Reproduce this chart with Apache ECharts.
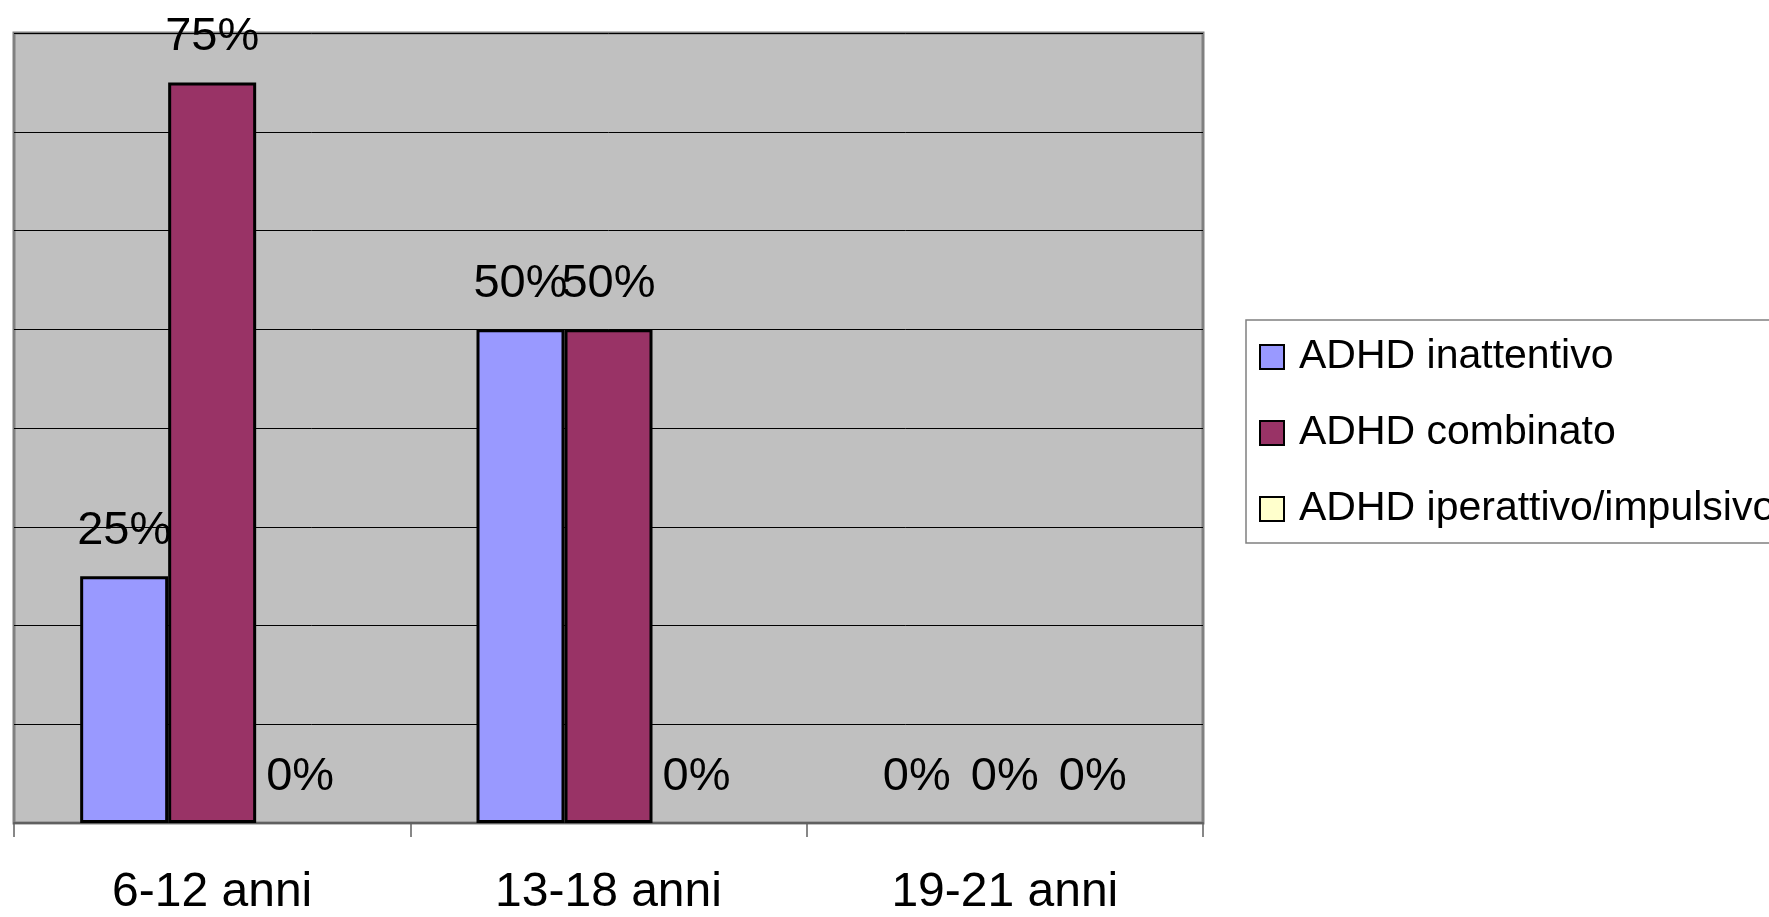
<!DOCTYPE html>
<html>
<head>
<meta charset="utf-8">
<script src="https://cdn.jsdelivr.net/npm/echarts@6/dist/echarts.min.js"></script>
<style>
html,body{margin:0;padding:0;background:#fff;}
#chart{width:1769px;height:917px;}
</style>
</head>
<body>
<div id="chart"></div>
<script>
const categories = ['6-12 anni', '13-18 anni', '19-21 anni'];
const seriesNames = ['ADHD inattentivo', 'ADHD combinato', 'ADHD iperattivo/impulsivo'];
const inattentivo = [25, 50, 0];
const combinato = [75, 50, 0];
const iperattivo = [0, 0, 0];
const colors = ['#9999FF', '#993366', '#FFFFCC'];

const font = '"Liberation Sans", Arial, sans-serif';
const chart = echarts.init(document.getElementById('chart'));

function mk(name, data, color) {
  return {
    name: name,
    type: 'bar',
    data: data.map(v => v === 0 ? { value: v, itemStyle: { borderWidth: 0 } } : v),
    barWidth: 88,
    barGap: '0%',
    itemStyle: { color: color, borderColor: '#000', borderWidth: 3 },
    label: {
      show: true,
      position: 'top',
      distance: 22,
      color: '#000',
      fontFamily: font,
      fontSize: 47,
      formatter: p => p.value + '%'
    }
  };
}

chart.setOption({
  animation: false,
  grid: {
    left: 14, top: 33, right: 566, bottom: 93,
    show: true,
    backgroundColor: '#C0C0C0',
    borderColor: '#808080',
    borderWidth: 3
  },
  legend: {
    orient: 'vertical',
    left: 1246,
    top: 320,
    backgroundColor: '#fff',
    borderColor: '#808080',
    borderWidth: 1.5,
    borderRadius: 0,
    padding: [13, 60, 10, 13],
    itemGap: 28,
    itemWidth: 24,
    itemHeight: 24,
    icon: 'rect',
    textStyle: {
      fontFamily: font,
      fontSize: 41,
      color: '#000',
      lineHeight: 48,
      padding: [0, 0, 0, 10]
    },
    data: seriesNames
  },
  xAxis: {
    type: 'category',
    data: categories,
    axisLine: { show: true, lineStyle: { color: '#606060', width: 2 } },
    axisTick: { show: true, length: 14, lineStyle: { color: '#606060', width: 1.5 } },
    axisLabel: { fontFamily: font, fontSize: 48, color: '#000', margin: 46 },
    splitLine: { show: false }
  },
  yAxis: {
    type: 'value',
    min: 0, max: 80, interval: 10,
    axisLine: { show: false },
    axisTick: { show: false },
    axisLabel: { show: false },
    splitLine: { show: true, lineStyle: { color: '#000', width: 1 } }
  },
  series: [
    mk(seriesNames[0], inattentivo, colors[0]),
    mk(seriesNames[1], combinato, colors[1]),
    mk(seriesNames[2], iperattivo, colors[2])
  ]
});
</script>
</body>
</html>
